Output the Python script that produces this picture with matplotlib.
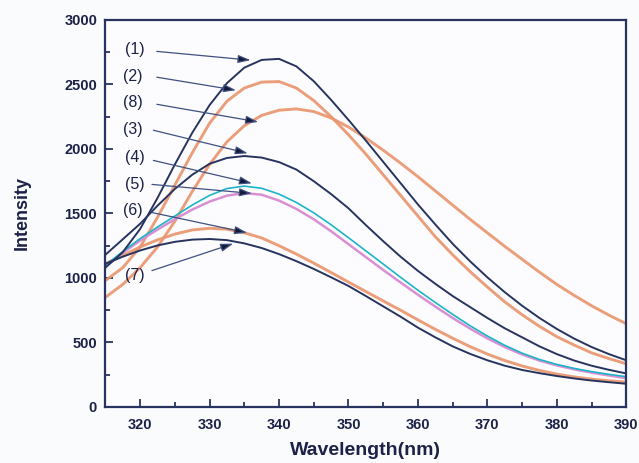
import numpy as np
import matplotlib
matplotlib.use("Agg")
import matplotlib.pyplot as plt
from matplotlib.ticker import MultipleLocator

# emission spectra, wavelength in nm, intensity in a.u.
wavelength = np.arange(315, 390.1, 2.5)

spec_1 = [1080, 1200, 1380, 1620, 1880, 2125, 2340, 2510, 2630, 2690, 2698, 2640,
          2525, 2380, 2225, 2065, 1900, 1735, 1570, 1415, 1265, 1130, 1005, 890,
          785, 690, 605, 530, 465, 410, 362]
spec_2 = [980, 1080, 1240, 1470, 1720, 1970, 2200, 2370, 2472, 2518, 2522, 2472,
          2375, 2250, 2110, 1960, 1800, 1640, 1480, 1320, 1180, 1050, 930, 815,
          715, 625, 545, 480, 420, 375, 335]
spec_8 = [850, 950, 1080, 1240, 1440, 1670, 1880, 2055, 2180, 2260, 2300, 2310,
          2290, 2240, 2170, 2085, 1990, 1890, 1785, 1675, 1565, 1455, 1350, 1245,
          1145, 1045, 950, 865, 785, 712, 645]
spec_3 = [1180, 1300, 1420, 1560, 1690, 1800, 1885, 1930, 1945, 1933, 1898, 1840,
          1750, 1650, 1540, 1410, 1285, 1165, 1055, 955, 860, 775, 690, 610,
          540, 470, 410, 360, 320, 288, 260]
spec_4 = [1100, 1205, 1305, 1395, 1480, 1565, 1640, 1693, 1712, 1695, 1650, 1585,
          1505, 1412, 1312, 1210, 1108, 1005, 905, 810, 718, 630, 550, 478,
          417, 368, 330, 299, 274, 253, 235]
spec_5 = [1090, 1195, 1290, 1375, 1455, 1530, 1592, 1638, 1658, 1645, 1600, 1535,
          1455, 1362, 1262, 1162, 1062, 965, 870, 778, 690, 608, 532, 465,
          407, 360, 322, 292, 266, 244, 223]
spec_6 = [1110, 1175, 1240, 1295, 1340, 1372, 1385, 1378, 1350, 1310, 1250, 1185,
          1115, 1042, 968, 895, 822, 750, 675, 602, 533, 468, 410, 360,
          318, 283, 255, 233, 216, 203, 193]
spec_7 = [1110, 1165, 1213, 1252, 1280, 1297, 1302, 1293, 1268, 1232, 1185, 1130,
          1070, 1005, 938, 860, 780, 700, 615, 540, 470, 412, 362, 320,
          287, 262, 240, 221, 205, 192, 180]

labels = ["(1)", "(2)", "(8)", "(3)", "(4)", "(5)", "(6)", "(7)"]
label_xy = [(319.2, 2774), (319.0, 2564), (319.0, 2362), (319.0, 2152),
            (319.2, 1935), (319.2, 1725), (319.0, 1523), (319.2, 1018)]
arrow_tail = [(322.4, 2756), (322.4, 2556), (322.4, 2346), (321.9, 2145),
              (321.9, 1911), (321.7, 1725), (321.7, 1507), (321.7, 1057)]
arrow_head = [(335.9, 2688), (333.8, 2455), (337.0, 2209), (335.5, 1966),
              (336.1, 1733), (336.1, 1655), (335.4, 1350), (333.4, 1266)]

navy = "#27345f"
salmon = "#e9946c"
text_col = "#1b2147"

fig = plt.figure(figsize=(6.39, 4.63), dpi=100, facecolor="#fafbfd")
ax = fig.add_axes([0.165, 0.121, 0.815, 0.836])
ax.set_facecolor("#fcfcfe")

ax.plot(wavelength, spec_8, color=salmon, lw=2.1, alpha=0.9)
ax.plot(wavelength, spec_2, color=salmon, lw=2.1, alpha=0.9)
ax.plot(wavelength, spec_6, color=salmon, lw=2.1, alpha=0.9)
ax.plot(wavelength, spec_5, color="#d890d2", lw=1.8)
ax.plot(wavelength, spec_4, color="#1db4c9", lw=1.2)
ax.plot(wavelength, spec_1, color=navy, lw=1.4)
ax.plot(wavelength, spec_3, color=navy, lw=1.4)
ax.plot(wavelength, spec_7, color=navy, lw=1.4)

for lab, pos, tail, head in zip(labels, label_xy, arrow_tail, arrow_head):
    ax.text(pos[0], pos[1], lab, ha="center", va="center", fontsize=11.5,
            color=text_col, family="Liberation Sans")
    ax.annotate("", xy=head, xytext=tail,
                arrowprops=dict(arrowstyle="-|>,head_length=0.75,head_width=0.24",
                                color="#3f5180", lw=0.9, fc="#141a3a",
                                shrinkA=0, shrinkB=0))

ax.set_xlim(315, 390)
ax.set_ylim(0, 3000)
ax.xaxis.set_major_locator(MultipleLocator(10))
ax.xaxis.set_minor_locator(MultipleLocator(5))
ax.yaxis.set_major_locator(MultipleLocator(500))
ax.yaxis.set_minor_locator(MultipleLocator(250))
ax.tick_params(which="both", direction="in", color=navy, width=1.3)
ax.tick_params(which="major", length=6)
ax.tick_params(which="minor", length=3.5)
ax.tick_params(axis="x", pad=8)
ax.tick_params(axis="y", pad=6)
for sp in ax.spines.values():
    sp.set_color(navy)
    sp.set_linewidth(1.6)

for t in ax.get_xticklabels() + ax.get_yticklabels():
    t.set_fontfamily("Liberation Sans")
    t.set_fontweight("bold")
    t.set_fontsize(10.5)
    t.set_color(text_col)

ax.set_xlabel("Wavelength(nm)", fontsize=14, fontweight="bold",
              family="Liberation Sans", color=text_col, labelpad=7)
ax.set_ylabel("Intensity", fontsize=13, fontweight="bold",
              family="Liberation Sans", color=text_col, labelpad=24)

fig.savefig("out.png", dpi=100, facecolor=fig.get_facecolor())
